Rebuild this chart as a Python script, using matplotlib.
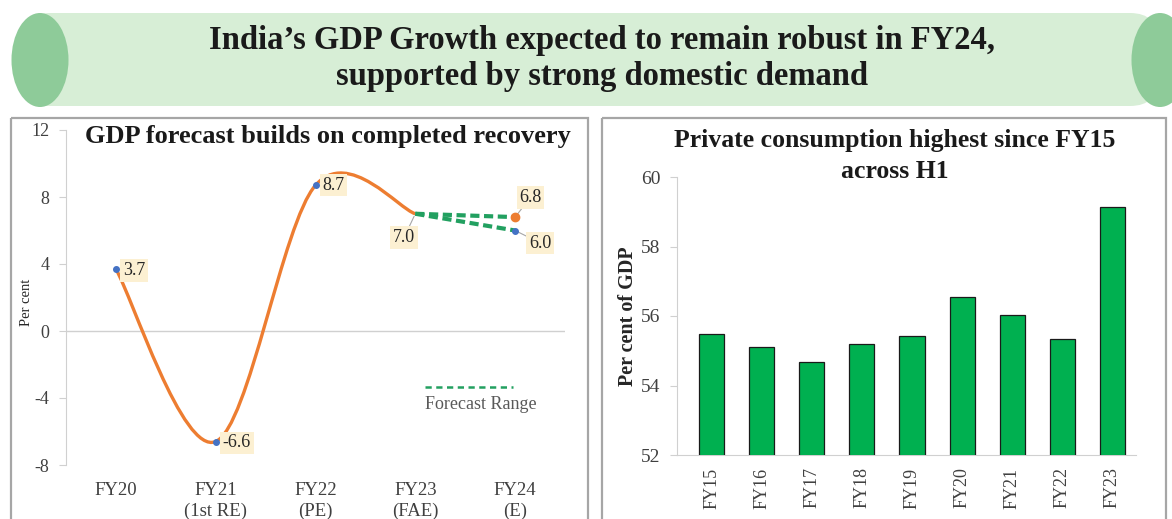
import matplotlib
matplotlib.use("Agg")
import matplotlib.pyplot as plt
from matplotlib.path import Path
from matplotlib.patches import PathPatch, FancyBboxPatch, Ellipse, Rectangle
from matplotlib.lines import Line2D

plt.rcParams["font.family"] = ["Liberation Serif", "DejaVu Serif"]
plt.rcParams["axes.unicode_minus"] = False

# data: GDP growth (left panel)
gdp_labels = ["FY20", "FY21\n(1st RE)", "FY22\n(PE)", "FY23\n(FAE)", "FY24\n(E)"]
gdp_growth = [3.7, -6.6, 8.7, 7.0]
fy24_high = 6.8
fy24_low = 6.0

# data: private consumption share (right panel)
cons_labels = ["FY15", "FY16", "FY17", "FY18", "FY19", "FY20", "FY21", "FY22", "FY23"]
cons_share = [55.48, 55.12, 54.68, 55.20, 55.43, 56.55, 56.02, 55.35, 59.14]

W, H = 1172, 519
fig = plt.figure(figsize=(W / 100, H / 100), dpi=100)


def px_axes(x0, y0, x1, y1, **kw):
    return fig.add_axes([x0 / W, 1 - y1 / H, (x1 - x0) / W, (y1 - y0) / H], **kw)


def px_text(x, y, s, **kw):
    return fig.text(x / W, 1 - y / H, s, **kw)


# background layer: banner + panel frames
bg = px_axes(0, 0, W, H)
bg.set_xlim(0, W)
bg.set_ylim(H, 0)
bg.axis("off")
bg.add_patch(FancyBboxPatch((22, 13), 1136, 93, boxstyle="round,pad=0,rounding_size=28",
                            fc="#d7eed6", ec="none"))
bg.add_patch(Ellipse((40, 60), 57, 94, fc="#8ecb99", ec="none"))
bg.add_patch(Ellipse((1160, 60), 57, 94, fc="#8ecb99", ec="none"))
bg.add_patch(Rectangle((11, 118), 577, 410, fc="none", ec="#a6a6a6", lw=1.6))
bg.add_patch(Rectangle((602, 118), 564, 410, fc="none", ec="#a6a6a6", lw=1.6))
px_text(602, 40, "India\u2019s GDP Growth expected to remain robust in FY24,", ha="center",
        va="center", fontsize=23.5, fontweight="bold", color="#1a1a1a")
px_text(602, 76, "supported by strong domestic demand", ha="center",
        va="center", fontsize=23.5, fontweight="bold", color="#1a1a1a")

# ---- left panel ----
ax = px_axes(66, 130, 565, 465)
ax.set_xlim(-0.5, 4.5)
ax.set_ylim(-8, 12)
ax.set_yticks([-8, -4, 0, 4, 8, 12])
ax.set_xticks(range(len(gdp_labels)))
ax.set_xticklabels(gdp_labels, fontsize=13.5, color="#404040", linespacing=1.3)
ax.tick_params(axis="x", length=0, pad=12)
ax.tick_params(axis="y", labelsize=13, labelcolor="#404040", color="#d0d0d0", length=5, pad=7)
for s in ["top", "right", "bottom"]:
    ax.spines[s].set_visible(False)
ax.spines["left"].set_color("#d0d0d0")
ax.axhline(0, color="#d0d0d0", lw=1)

# smoothed line (Excel-like bezier through the points)
pts = [(i, v) for i, v in enumerate(gdp_growth)]
n = len(pts)
verts = [pts[0]]
codes = [Path.MOVETO]
for i in range(n - 1):
    p0 = pts[max(i - 1, 0)]
    p1 = pts[i]
    p2 = pts[i + 1]
    p3 = pts[min(i + 2, n - 1)]
    c1 = (p1[0] + (p2[0] - p0[0]) / 6, p1[1] + (p2[1] - p0[1]) / 6)
    c2 = (p2[0] - (p3[0] - p1[0]) / 6, p2[1] - (p3[1] - p1[1]) / 6)
    verts += [c1, c2, p2]
    codes += [Path.CURVE4] * 3
ax.add_patch(PathPatch(Path(verts, codes), fc="none", ec="#ed7d31", lw=2.4, zorder=3))

# forecast range
last = len(gdp_growth) - 1
for v in (fy24_high, fy24_low):
    ax.plot([last, last + 1], [gdp_growth[-1], v], color="#22a060", lw=3,
            dashes=(2.2, 1.1), zorder=4)

ax.plot([0, 1, 2], gdp_growth[:3], "o", color="#4472c4", ms=4, zorder=5)
ax.plot([last + 1], [fy24_low], "o", color="#4472c4", ms=4, zorder=5)
ax.plot([last + 1], [fy24_high], "o", color="#ed7d31", ms=6, zorder=5)

box = dict(boxstyle="square,pad=0.15", fc="#fcf0d2", ec="none")
lead = dict(arrowstyle="-", color="#a6a6a6", lw=0.8, shrinkA=0, shrinkB=2)
lab_kw = dict(textcoords="offset points", fontsize=13, color="#262626", bbox=box, va="center")
ax.annotate(f"{gdp_growth[0]:.1f}", (0, gdp_growth[0]), xytext=(5, -1), ha="left", **lab_kw)
ax.annotate(f"{gdp_growth[1]:.1f}", (1, gdp_growth[1]), xytext=(5, -1), ha="left", **lab_kw)
ax.annotate(f"{gdp_growth[2]:.1f}", (2, gdp_growth[2]), xytext=(5, 0), ha="left", **lab_kw)
ax.annotate(f"{gdp_growth[3]:.1f}", (3, gdp_growth[3]), xytext=(-8, -17), ha="center",
            arrowprops=lead, **lab_kw)
ax.annotate(f"{fy24_high:.1f}", (4, fy24_high), xytext=(11, 14), ha="center",
            arrowprops=lead, **lab_kw)
ax.annotate(f"{fy24_low:.1f}", (4, fy24_low), xytext=(18, -9), ha="center",
            arrowprops=lead, **lab_kw)

# legend
ax.add_line(Line2D([0.719, 0.896], [0.233, 0.233], transform=ax.transAxes, color="#22a060",
                   lw=1.8, dashes=(2.5, 1.8)))
ax.text(0.719, 0.18, "Forecast Range", transform=ax.transAxes, ha="left", va="center",
        fontsize=13, color="#595959")

px_text(328, 137, "GDP forecast builds on completed recovery", ha="center",
        va="center", fontsize=19, fontweight="bold", color="#1a1a1a")
px_text(27, 302, "Per cent", rotation=90, ha="center", va="center",
        fontsize=10.5, color="#262626")

# ---- right panel ----
bx = px_axes(677, 177, 1136, 455)
bx.bar(range(len(cons_share)), cons_share, width=0.5, color="#00b050", edgecolor="#1a1a1a",
       lw=0.9, zorder=3)
bx.set_xlim(-0.69, 8.47)
bx.set_ylim(52, 60)
bx.set_yticks([52, 54, 56, 58, 60])
bx.set_xticks(range(len(cons_labels)))
bx.set_xticklabels(cons_labels, rotation=90, fontsize=13, color="#404040")
bx.tick_params(axis="x", length=0, pad=9)
bx.tick_params(axis="y", labelsize=14, labelcolor="#404040", color="#d0d0d0", length=5, pad=7)
for s in ["top", "right"]:
    bx.spines[s].set_visible(False)
bx.spines["left"].set_color("#d0d0d0")
bx.spines["bottom"].set_color("#d0d0d0")
px_text(628, 316, "Per cent of GDP", rotation=90, ha="center", va="center",
        fontsize=14.5, fontweight="bold", color="#262626")

px_text(895, 140, "Private consumption highest since FY15", ha="center",
        va="center", fontsize=18.5, fontweight="bold", color="#1a1a1a")
px_text(895, 171, "across H1", ha="center",
        va="center", fontsize=18.5, fontweight="bold", color="#1a1a1a")

fig.savefig("out.png", dpi=100)
